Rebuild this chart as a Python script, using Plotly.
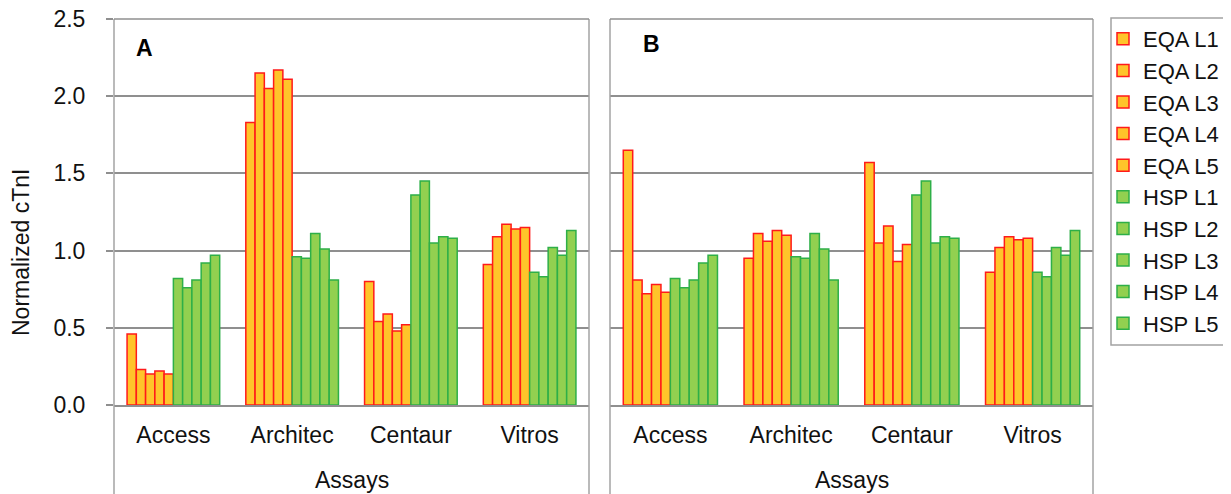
import plotly.graph_objects as go

# reference canvas is 1231x494; the page body adds an 8px offset
OFF = 8
FW, FH = 1231 - OFF, 494 - OFF

assays = ["Access", "Architec", "Centaur", "Vitros"]
levels = ["L1", "L2", "L3", "L4", "L5"]

# Panel A - EQA values per assay (levels L1..L5)
eqa_a_access = [0.46, 0.23, 0.20, 0.22, 0.20]
eqa_a_architec = [1.83, 2.15, 2.05, 2.17, 2.11]
eqa_a_centaur = [0.80, 0.54, 0.59, 0.48, 0.52]
eqa_a_vitros = [0.91, 1.09, 1.17, 1.14, 1.15]

# Panel B - EQA values per assay
eqa_b_access = [1.65, 0.81, 0.72, 0.78, 0.73]
eqa_b_architec = [0.95, 1.11, 1.06, 1.13, 1.10]
eqa_b_centaur = [1.57, 1.05, 1.16, 0.93, 1.04]
eqa_b_vitros = [0.86, 1.02, 1.09, 1.07, 1.08]

# HSP values per assay (same in both panels)
hsp_access = [0.82, 0.76, 0.81, 0.92, 0.97]
hsp_architec = [0.96, 0.95, 1.11, 1.01, 0.81]
hsp_centaur = [1.36, 1.45, 1.05, 1.09, 1.08]
hsp_vitros = [0.86, 0.83, 1.02, 0.97, 1.13]

y_ticks = [0.0, 0.5, 1.0, 1.5, 2.0, 2.5]

eqa_a = [eqa_a_access, eqa_a_architec, eqa_a_centaur, eqa_a_vitros]
eqa_b = [eqa_b_access, eqa_b_architec, eqa_b_centaur, eqa_b_vitros]
hsp = [hsp_access, hsp_architec, hsp_centaur, hsp_vitros]

EQA_FILL, EQA_LINE = "#FFC42A", "#FF1A1A"
HSP_FILL, HSP_LINE = "#92D050", "#2EAF48"
GRID = "#8f8f8f"
FRAME = "#a3a3a3"
FONT = "Liberation Sans, Arial, sans-serif"
TXT = "#111111"


def fx(px):
    return (px - OFF) / FW


def fy(py):
    return 1 - (py - OFF) / FH


fig = go.Figure()


def add_panel(eqa, xa, ya, show):
    for i, lv in enumerate(levels):
        fig.add_trace(go.Bar(
            x=assays, y=[row[i] for row in eqa], name="EQA " + lv,
            xaxis=xa, yaxis=ya, showlegend=show, legendgroup="EQA " + lv,
            marker=dict(color=EQA_FILL, line=dict(color=EQA_LINE, width=1.5)),
        ))
    for i, lv in enumerate(levels):
        fig.add_trace(go.Bar(
            x=assays, y=[row[i] for row in hsp], name="HSP " + lv,
            xaxis=xa, yaxis=ya, showlegend=show, legendgroup="HSP " + lv,
            marker=dict(color=HSP_FILL, line=dict(color=HSP_LINE, width=1.5)),
        ))


add_panel(eqa_a, "x", "y", True)
add_panel(eqa_b, "x2", "y2", False)

xa0, xa1 = fx(114), fx(589)
xb0, xb1 = fx(610), fx(1093)
yd0, yd1 = fy(405), fy(19)

xcommon = dict(type="category", showgrid=False, showline=True, linecolor=GRID,
               linewidth=1.5, ticks="", ticklabelstandoff=9, automargin=False,
               tickfont=dict(size=23, color=TXT, family=FONT),
               fixedrange=True)
ycommon = dict(range=[0, 2.5], tickvals=y_ticks, showgrid=True, gridcolor=GRID,
               gridwidth=1.5, zeroline=False, showline=False, automargin=False,
               domain=[yd0, yd1], fixedrange=True)

fig.update_layout(
    width=FW, height=FH,
    margin=dict(l=0, r=0, t=0, b=0),
    paper_bgcolor="white", plot_bgcolor="white",
    template="none",
    barmode="group", bargap=0.22, bargroupgap=0,
    font=dict(family=FONT, size=23, color=TXT),
    xaxis=dict(domain=[xa0, xa1], anchor="y", **xcommon),
    xaxis2=dict(domain=[xb0, xb1], anchor="y2", **xcommon),
    yaxis=dict(anchor="x", ticks="outside", ticklen=7, tickcolor=GRID, tickwidth=1.5,
               ticklabelstandoff=16, tickformat=".1f", ticklabeloverflow="allow",
               tickfont=dict(size=23, color=TXT, family=FONT), **ycommon),
    yaxis2=dict(anchor="x2", showticklabels=False, ticks="", matches="y", **ycommon),
    showlegend=True,
    legend=dict(x=fx(1103), y=fy(18), xanchor="left", yanchor="top",
                bgcolor="rgba(0,0,0,0)", borderwidth=0, tracegroupgap=0,
                font=dict(size=22, color=TXT, family=FONT)),
)

shapes = []
for x0, x1 in [(xa0, xa1), (xb0, xb1)]:
    for xx in (x0, x1):
        shapes.append(dict(type="line", xref="paper", yref="paper", x0=xx, x1=xx,
                           y0=-0.05, y1=yd1, layer="above",
                           line=dict(color=FRAME, width=1.5)))
    shapes.append(dict(type="line", xref="paper", yref="paper", x0=x0, x1=x1,
                       y0=yd1, y1=yd1, layer="above",
                       line=dict(color=GRID, width=1.5)))
# y-axis tick at the top (2.5) is drawn by the axis; legend frame
shapes.append(dict(type="rect", xref="paper", yref="paper", x0=fx(1111), x1=1.05,
                   y0=fy(345), y1=fy(18), line=dict(color=FRAME, width=1.5)))
fig.update_layout(shapes=shapes)


def ann(text, x, y, size=23, angle=0, color=TXT):
    return dict(text=text, x=fx(x), y=fy(y), xref="paper", yref="paper",
                xanchor="center", yanchor="middle", showarrow=False, textangle=angle,
                font=dict(size=size, color=color, family=FONT))


annotations = [
    ann("<b>A</b>", 144, 48, color="#000000"),
    ann("<b>B</b>", 651, 44, color="#000000"),
    ann("Assays", (114 + 589) / 2, 480),
    ann("Assays", (610 + 1093) / 2, 480),
    ann("Normalized cTnI", 21, 253, size=23, angle=-90),
]
fig.update_layout(annotations=annotations)

fig.write_html("out.html")
